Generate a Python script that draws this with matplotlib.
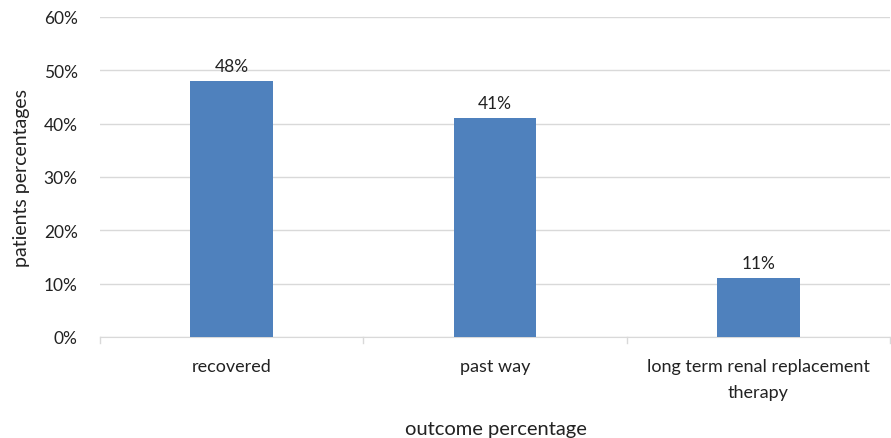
import matplotlib
matplotlib.use("Agg")
import matplotlib.pyplot as plt
from matplotlib.ticker import FuncFormatter

categories = ["recovered", "past way", "long term renal replacement\ntherapy"]
values = [48, 41, 11]
yticks = [0, 10, 20, 30, 40, 50, 60]

plt.rcParams['font.family'] = ['Lato', 'DejaVu Sans']

W, H = 891, 439
fig = plt.figure(figsize=(W/100, H/100), dpi=100)
ax = fig.add_axes([100/W, (H-338)/H, 790/W, (338-18)/H])

x = list(range(len(categories)))
ax.bar(x, values, width=0.315, color="#4F81BD", zorder=3)
for xi, v in zip(x, values):
    ax.text(xi, v + 1.4, f"{v}%", ha="center", va="bottom", fontsize=12.5, color="#222222")

ax.set_xlim(-0.5, len(categories) - 0.5)
ax.set_ylim(0, 60)
ax.set_yticks(yticks)
ax.yaxis.set_major_formatter(FuncFormatter(lambda v, p: f"{int(v)}%"))
ax.grid(axis="y", color="#D9D9D9", linewidth=1, zorder=0)

ax.set_xticks(x)
ax.set_xticklabels(categories, fontsize=13, color="#222222", linespacing=1.75)
ax.tick_params(axis="x", length=0, pad=15)
ax.tick_params(axis="y", length=0, labelsize=12.5, labelcolor="#222222", pad=16)

# category separator ticks
for b in [-0.5, 0.5, 1.5, 2.5]:
    ax.plot([b, b], [0, -1.1], color="#D9D9D9", linewidth=1, clip_on=False, zorder=2)

for s in ["top", "right", "left"]:
    ax.spines[s].set_visible(False)
ax.spines["bottom"].set_color("#D9D9D9")

fig.text(496/W, 1 - 430/H, "outcome percentage", fontsize=14.5, color="#222222",
         ha="center", va="center")
fig.text(22/W, 1 - 178/H, "patients percentages", fontsize=14, color="#222222",
         ha="center", va="center", rotation=90)

fig.savefig("out.png", dpi=100)
